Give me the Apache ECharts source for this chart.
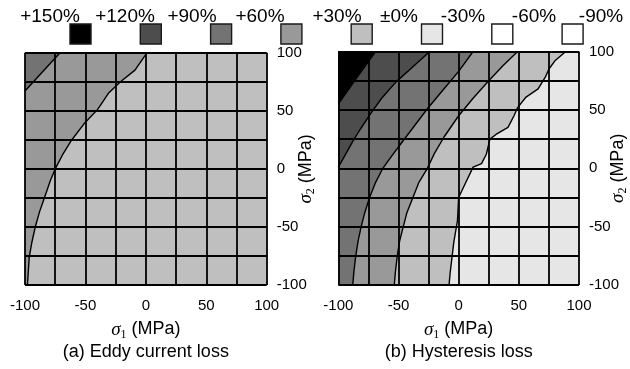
<!DOCTYPE html>
<html>
<head>
<meta charset="utf-8">
<script src="https://cdn.jsdelivr.net/npm/echarts@6.0.0/dist/echarts.min.js"></script>
<style>
  html, body { margin: 0; padding: 0; background: #fff; }
  #chart { width: 630px; height: 369px; }
</style>
</head>
<body>
<div id="chart"></div>
<script>
// 應力-損失變化率等高線圖：(a) 渦流損 (b) 磁滯損，σ1/σ2 = -100..100 MPa

const FONT = "'Liberation Sans', Arial, sans-serif";
const SERIF = "'Liberation Serif', 'Times New Roman', serif";

// ── data ──────────────────────────────────────────────────────────────
const levelLabels = ["+150%", "+120%", "+90%", "+60%", "+30%", "±0%", "-30%", "-60%", "-90%"];
// colour of band k = between levelLabels[k] and levelLabels[k+1]
const levelColors = ["#000000", "#4d4d4d", "#737373", "#999999", "#bfbfbf", "#e6e6e6", "#ffffff", "#ffffff"];

// (a) Eddy current loss — background band +30..0 %
const eddyBase = 4;
const eddyLine30 = [[1, 100], [-9, 85], [-21, 75], [-31, 65], [-40, 51], [-51, 39], [-62, 24], [-69, 12],
  [-75, 0], [-79, -10], [-84, -25], [-88, -37], [-91.5, -50], [-94.5, -64], [-96.5, -76], [-98, -100]];
const eddyLine60 = [[-71, 100], [-86, 83], [-100, 67]];

// (b) Hysteresis loss — background band 0..-30 %
const hystBase = 5;
const hystLine0 = [[89, 100], [80, 92], [75, 85], [72, 78], [66, 68], [56, 61], [49, 52], [46, 45], [41, 35],
  [31, 29], [26, 25], [23, 12], [19, 4], [12, 1], [6, -12], [0, -25], [-1, -45], [-4, -63], [-7, -89], [-8, -100]];
const hystLine30 = [[49, 100], [37, 88], [25, 75], [12, 60], [0, 45], [-12, 27], [-20, 13], [-26, 0], [-33, -12],
  [-38, -25], [-43, -38], [-46, -50], [-49, -62], [-51, -75], [-52.5, -88], [-53.5, -100]];
const hystLine60 = [[12, 100], [0, 83], [-13, 67], [-26, 51], [-37, 36], [-48, 21], [-56, 10], [-63, 0], [-69, -12],
  [-74, -25], [-78, -38], [-81, -50], [-83.5, -62], [-85.5, -75], [-87, -88], [-88, -100]];
const hystLine90 = [[-24, 100], [-38, 87], [-52, 74], [-64, 60], [-73, 47], [-82, 33], [-88, 23], [-94, 12], [-100, 1]];
const hystLine120 = [[-69, 100], [-85, 77], [-100, 55]];

// ── layout ────────────────────────────────────────────────────────────
const legendBoxX0 = 70, legendBoxStep = 70.3, legendBoxY = 24;
const legendLabelX = [50, 125, 192, 260, 337, 399, 463, 534, 601];

// contour -> closed region towards the (-100, 100) corner
function closeRegion(line) {
  const pts = line.slice();
  if (pts[pts.length - 1][1] === -100) pts.push([-100, -100]);
  pts.push([-100, 100]);
  return pts;
}

function fillSeries(idx, base, bands) {
  const regions = [{ pts: [[-100, 100], [100, 100], [100, -100], [-100, -100]], color: levelColors[base] }]
    .concat(bands.map(b => ({ pts: closeRegion(b[0]), color: levelColors[b[1]] })));
  return {
    type: "custom", xAxisIndex: idx, yAxisIndex: idx, silent: true, z: 1,
    data: regions.map((r, i) => [i, 0]),
    renderItem(params, api) {
      const r = regions[api.value(0)];
      return {
        type: "polygon",
        shape: { points: r.pts.map(p => api.coord(p)) },
        style: { fill: r.color, stroke: null },
      };
    },
  };
}

function lineSeries(idx, line) {
  return {
    type: "line", xAxisIndex: idx, yAxisIndex: idx, data: line,
    symbol: "none", silent: true, z: 3, animation: false,
    lineStyle: { color: "#000", width: 1.4 },
  };
}

const richName = {
  s: { fontFamily: SERIF, fontStyle: "italic", fontSize: 19, color: "#000" },
  sub: { fontFamily: SERIF, fontSize: 12, color: "#000", verticalAlign: "bottom", lineHeight: 22 },
  t: { fontFamily: FONT, fontSize: 18, color: "#000" },
};

const tickFmt = v => (v % 50 === 0 ? String(v) : "");

function xAxisOf(idx, caption) {
  return {
    gridIndex: idx, type: "value", min: -100, max: 100, interval: 25, z: 5,
    axisLine: { show: false }, axisTick: { show: false },
    splitLine: { show: true, lineStyle: { color: "#000", width: 1.8 } },
    axisLabel: { margin: 13, color: "#000", fontSize: 15, fontFamily: FONT, formatter: tickFmt },
    name: `{s|σ}{sub|1}{t| (MPa)}\n{t|${caption}}`,
    nameLocation: "middle", nameGap: 29,
    nameTextStyle: { lineHeight: 23, rich: richName },
  };
}

function yAxisOf(idx) {
  return {
    gridIndex: idx, type: "value", position: "right", min: -100, max: 100, interval: 25, z: 5,
    axisLine: { show: false }, axisTick: { show: false },
    splitLine: { show: true, lineStyle: { color: "#000", width: 1.8 } },
    axisLabel: { margin: 10, color: "#000", fontSize: 15, fontFamily: FONT, formatter: tickFmt, padding: [5, 0, 0, 0] },
    name: "{s|σ}{sub|2}{t| (MPa)}",
    nameLocation: "middle", nameGap: 28, nameMoveOverlap: false,
    nameTextStyle: { lineHeight: 22, rich: richName },
  };
}

const legendEls = [];
levelColors.forEach((c, i) => {
  legendEls.push({
    type: "rect",
    shape: { x: legendBoxX0 + legendBoxStep * i, y: legendBoxY, width: 21, height: 20 },
    style: { fill: c, stroke: "#1a1a1a", lineWidth: 1.4 },
  });
});
levelLabels.forEach((t, i) => {
  legendEls.push({
    type: "text", x: legendLabelX[i], y: 16.5,
    style: { text: t, fill: "#000", fontSize: 19, fontFamily: FONT,
      textAlign: "center", textVerticalAlign: "middle", align: "center", verticalAlign: "middle" },
  });
});

const chart = echarts.init(document.getElementById("chart"), null, { renderer: "canvas" });
chart.setOption({
  backgroundColor: "#fff", animation: false,
  grid: [
    { left: 25, top: 52.7, width: 241.7, height: 235.6 },
    { left: 338.3, top: 51.5, width: 243.4, height: 235.8 },
  ],
  xAxis: [xAxisOf(0, "(a) Eddy current loss"), xAxisOf(1, "(b) Hysteresis loss")],
  yAxis: [yAxisOf(0), yAxisOf(1)],
  graphic: { elements: legendEls },
  series: [
    fillSeries(0, eddyBase, [[eddyLine30, 3], [eddyLine60, 2]]),
    lineSeries(0, eddyLine30), lineSeries(0, eddyLine60),
    fillSeries(1, hystBase, [[hystLine0, 4], [hystLine30, 3], [hystLine60, 2], [hystLine90, 1], [hystLine120, 0]]),
    lineSeries(1, hystLine0), lineSeries(1, hystLine30), lineSeries(1, hystLine60),
    lineSeries(1, hystLine90), lineSeries(1, hystLine120),
  ],
});
</script>
</body>
</html>
